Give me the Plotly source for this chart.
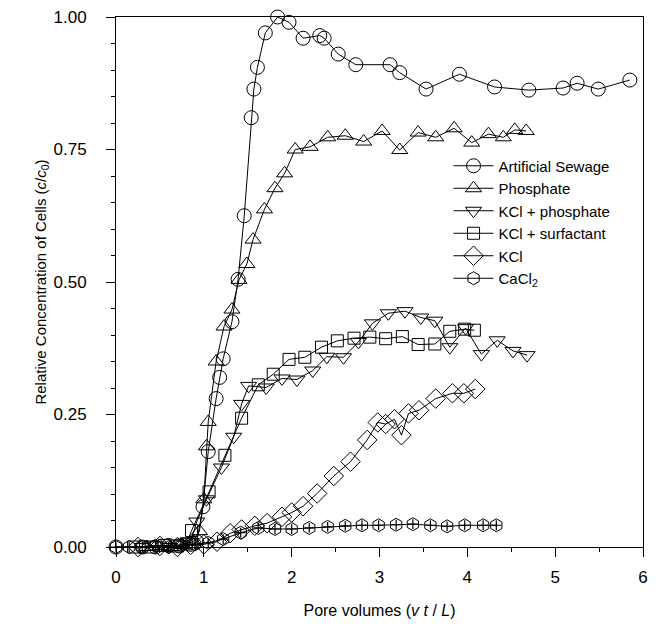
import plotly.graph_objects as go

# ---------------- data ----------------
sew_x = [0, 0.30, 0.45, 0.60, 0.72, 0.85, 0.92, 0.99, 1.05, 1.14, 1.18, 1.22, 1.32, 1.39, 1.46, 1.54, 1.57,
         1.61, 1.70, 1.84, 1.97, 2.13, 2.32, 2.37, 2.53, 2.73, 3.12, 3.23, 3.53, 3.91, 4.31, 4.70, 5.09,
         5.25, 5.49, 5.85]
sew_y = [0, 0, 0, 0.003, 0.002, 0.005, 0.010, 0.076, 0.18, 0.28, 0.32, 0.355, 0.425, 0.505, 0.625, 0.81, 0.864,
         0.905, 0.97, 1.00, 0.99, 0.96, 0.965, 0.96, 0.93, 0.91, 0.91, 0.895, 0.864, 0.892, 0.868, 0.862, 0.866,
         0.875, 0.864, 0.881]

pho_x = [0.35, 0.50, 0.62, 0.75, 0.88, 0.95, 1.00, 1.03, 1.05, 1.14, 1.23, 1.32, 1.40, 1.49, 1.56, 1.69, 1.81,
         1.92, 2.04, 2.21, 2.41, 2.61, 2.82, 3.03, 3.23, 3.44, 3.64, 3.85, 4.05, 4.24, 4.41, 4.54, 4.67]
pho_y = [0, 0.002, 0, 0.004, 0.010, 0.030, 0.09, 0.19, 0.236, 0.35, 0.416, 0.448, 0.504, 0.534, 0.58, 0.637, 0.677,
         0.705, 0.75, 0.755, 0.773, 0.776, 0.765, 0.785, 0.749, 0.782, 0.773, 0.79, 0.763, 0.779, 0.773, 0.787, 0.785]

kp_x = [0.30, 0.45, 0.60, 0.75, 0.85, 0.92, 1.03, 1.20, 1.34, 1.43, 1.51, 1.71, 1.89, 2.06, 2.24, 2.40, 2.59,
        2.76, 2.92, 3.10, 3.29, 3.47, 3.63, 3.80, 3.98, 4.16, 4.34, 4.52, 4.68]
kp_y = [0, 0.003, 0, 0.005, 0.010, 0.048, 0.09, 0.15, 0.208, 0.27, 0.304, 0.301, 0.318, 0.316, 0.333, 0.359, 0.358,
        0.387, 0.422, 0.441, 0.445, 0.433, 0.427, 0.377, 0.413, 0.364, 0.39, 0.37, 0.362]

ks_x = [0.20, 0.40, 0.55, 0.70, 0.80, 0.86, 1.06, 1.24, 1.43, 1.62, 1.79, 1.97, 2.15, 2.34, 2.52, 2.71, 2.89,
        3.07, 3.26, 3.44, 3.63, 3.80, 3.97, 4.08]
ks_y = [0, 0, 0.003, 0.002, 0.006, 0.031, 0.104, 0.173, 0.243, 0.306, 0.326, 0.354, 0.358, 0.377, 0.389, 0.394, 0.396,
        0.393, 0.397, 0.382, 0.383, 0.407, 0.411, 0.409]

kcl_x = [0.25, 0.50, 0.70, 0.85, 1.00, 1.15, 1.30, 1.43, 1.58, 1.72, 1.89, 2.00, 2.13, 2.29, 2.48, 2.67, 2.86,
         2.98, 3.07, 3.17, 3.25, 3.33, 3.45, 3.64, 3.83, 3.96, 4.09]
kcl_y = [0, 0.002, 0, 0.004, 0.005, 0.010, 0.026, 0.033, 0.040, 0.045, 0.057, 0.065, 0.077, 0.101, 0.134, 0.161, 0.202,
         0.235, 0.232, 0.241, 0.211, 0.252, 0.258, 0.28, 0.29, 0.29, 0.298]

ca_x = [0, 0.15, 0.30, 0.45, 0.60, 0.75, 0.90, 1.05, 1.22, 1.42, 1.62, 1.81, 2.00, 2.20, 2.41, 2.61, 2.80,
        2.99, 3.19, 3.38, 3.58, 3.77, 3.97, 4.18, 4.33]
ca_y = [0, 0, 0, 0.002, 0, 0.003, 0.005, 0.008, 0.015, 0.027, 0.036, 0.034, 0.034, 0.036, 0.038, 0.040, 0.041,
        0.041, 0.042, 0.043, 0.041, 0.039, 0.041, 0.041, 0.041]

names = ["Artificial Sewage", "Phosphate", "KCl + phosphate", "KCl + surfactant", "KCl", "CaCl<sub>2</sub>"]
x_ticks = [0, 1, 2, 3, 4, 5, 6]
y_ticks = [0.0, 0.25, 0.5, 0.75, 1.0]
y_tick_text = ["0.00", "0.25", "0.50", "0.75", "1.00"]

FONT = "Liberation Sans, Arial, sans-serif"

fig = go.Figure()

series = [
    (sew_x, sew_y, "circle-open", 14),
    (pho_x, pho_y, "triangle-up-open", 14),
    (kp_x, kp_y, "triangle-down-open", 14),
    (ks_x, ks_y, "square-open", 12),
    (kcl_x, kcl_y, "diamond-open", 15),
    (ca_x, ca_y, "hexagon-open", 13),
]
for (xs, ys, sym, sz), nm in zip(series, names):
    fig.add_trace(go.Scatter(
        x=xs, y=ys, mode="lines+markers", name=nm, cliponaxis=False,
        line=dict(color="black", width=1),
        marker=dict(symbol=sym, size=sz, color="black", line=dict(width=1, color="black")),
    ))

# plus sign inside the CaCl2 hexagons
fig.add_trace(go.Scatter(
    x=ca_x, y=ca_y, mode="markers", showlegend=False, cliponaxis=False,
    marker=dict(symbol="cross-thin-open", size=7, color="black", line=dict(width=1.2, color="black")),
))

# the page body has an 8px default margin, so the figure is sized to fit inside the window
fig.update_layout(
    width=650, height=616,
    margin=dict(l=108, r=15, t=9, b=77),
    paper_bgcolor="white", plot_bgcolor="white",
    font=dict(family=FONT, size=15, color="black"),
    showlegend=True,
    legend=dict(x=0.631, y=0.75, xanchor="left", yanchor="top",
                bgcolor="rgba(255,255,255,0)", font=dict(size=15, family=FONT),
                itemwidth=40, tracegroupgap=0),
)

fig.update_xaxes(
    range=[0, 6], tickvals=x_ticks, ticks="outside", ticklen=9, tickwidth=1, tickcolor="black",
    showline=True, linecolor="black", linewidth=1, mirror=True, showgrid=False, zeroline=False,
    automargin=False, ticklabelstandoff=6, ticklabeloverflow="allow",
    minor=dict(dtick=0.5, ticks="outside", ticklen=4, tickcolor="black", showgrid=False),
    tickfont=dict(size=17, family=FONT),
    title=dict(text="Pore volumes (<i>v t</i> / <i>L</i>)", font=dict(size=16, family=FONT), standoff=18),
)
fig.update_yaxes(
    range=[0, 1], tickvals=y_ticks, ticktext=y_tick_text, ticks="outside", ticklen=9, tickwidth=1,
    tickcolor="black", showline=True, linecolor="black", linewidth=1, mirror=True, showgrid=False,
    zeroline=False, ticklabelstandoff=16, automargin=False, ticklabeloverflow="allow",
    minor=dict(dtick=0.05, ticks="outside", ticklen=4, tickcolor="black", showgrid=False),
    tickfont=dict(size=17, family=FONT),
    title=dict(text="Relative Concentration of Cells (<i>c</i>/<i>c</i><sub>0</sub>)",
               font=dict(size=15, family=FONT), standoff=3),
)

fig.write_html("out.html")
